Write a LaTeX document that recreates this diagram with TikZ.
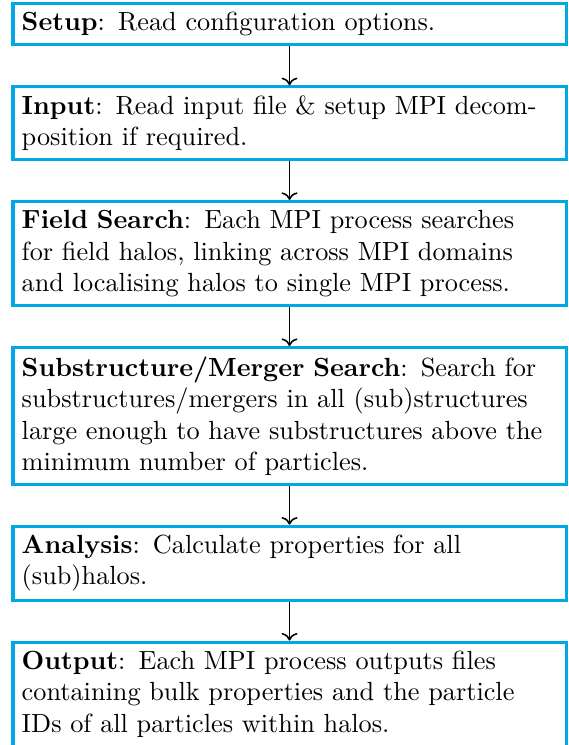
\documentclass[tikz,border=0pt]{standalone}
\usepackage{xcolor}
\usepackage{tikz}
\usetikzlibrary{arrows.meta, positioning}

\definecolor{stageblue}{RGB}{0,168,230}

\begin{document}
\begin{tikzpicture}[
        stagebox/.style={draw=stageblue, line width=1.15pt, rectangle, text width=204pt, align=left, inner sep=3.33pt},
        flow/.style={->, semithick},
        node distance=14.8pt
    ]
    % fixed frame, same proportions as the page
    \useasboundingbox (-4.38pt,0.76pt) rectangle ++(216.4pt,-283.8pt);

    \node[stagebox, anchor=north west] (setup) at (0,0) {\textbf{Setup}: Read configuration options.};
    \node[stagebox, below=of setup] (input) {\textbf{Input}: Read input file \& setup MPI decom-\\position if required.};
    \node[stagebox, below=of input] (field) {\textbf{Field Search}: Each MPI process searches\\for field halos, linking across MPI domains\\and localising halos to single MPI process.};
    \node[stagebox, below=of field] (substruct) {\textbf{Substructure/Merger Search}: Search for\\substructures/mergers in all (sub)structures\\large enough to have substructures above the\\minimum number of particles.};
    \node[stagebox, below=of substruct] (analysis) {\textbf{Analysis}: Calculate properties for all\\(sub)halos.};
    \node[stagebox, below=of analysis] (output) {\textbf{Output}: Each MPI process outputs files\\containing bulk properties and the particle\\IDs of all particles within halos.};

    % arrows between the stages
    \draw[flow] (setup) -- (input);
    \draw[flow] (input) -- (field);
    \draw[flow] (field) -- (substruct);
    \draw[flow] (substruct) -- (analysis);
    \draw[flow] (analysis) -- (output);
\end{tikzpicture}
\end{document}
